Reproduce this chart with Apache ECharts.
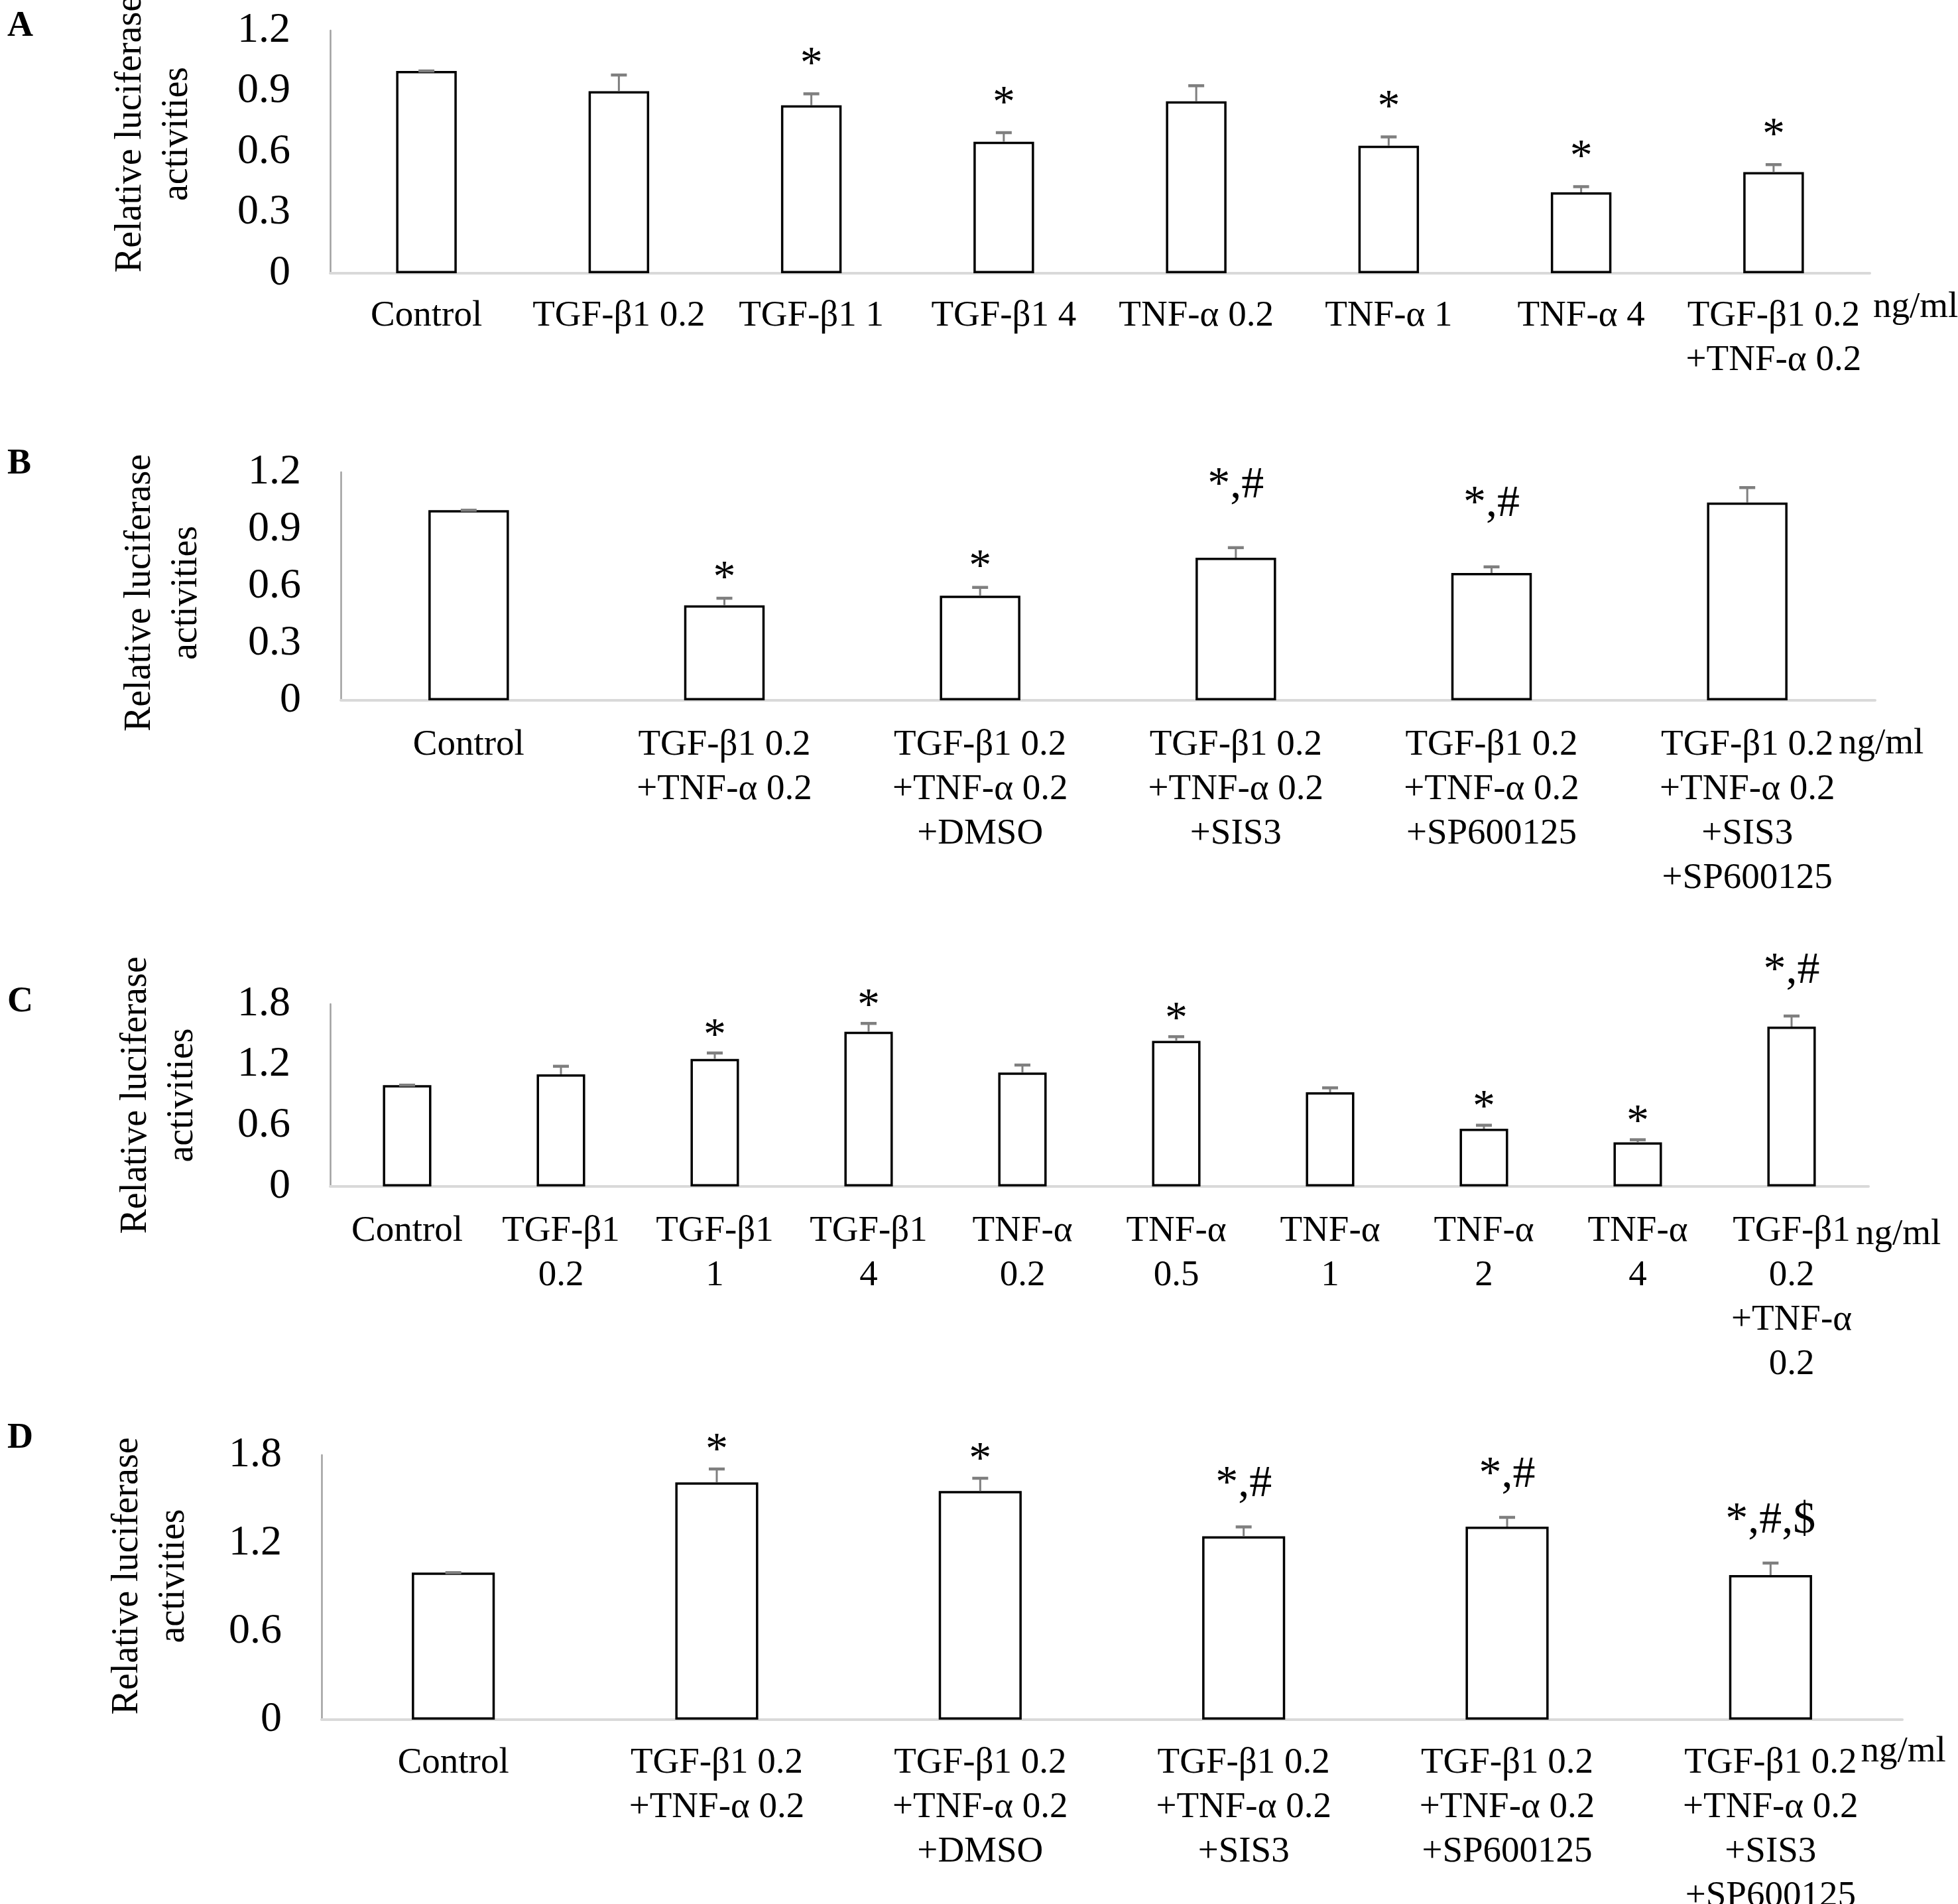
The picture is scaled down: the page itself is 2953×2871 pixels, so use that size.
<!DOCTYPE html>
<html>
<head>
<meta charset="utf-8">
<script src="https://cdn.jsdelivr.net/npm/echarts@6/dist/echarts.min.js"></script>
<style>
html,body{margin:0;padding:0;background:#fff;}
#chart{width:2953px;height:2871px;}
</style>
</head>
<body>
<div id="chart"></div>
<script>
// ---------- data ----------
const catsA = ['Control','TGF-β1 0.2','TGF-β1 1','TGF-β1 4','TNF-α 0.2','TNF-α 1','TNF-α 4','TGF-β1 0.2\n+TNF-α 0.2'];
const meanA = [1.0, 0.90, 0.83, 0.65, 0.85, 0.63, 0.40, 0.50];
const seA   = [0, 0.08, 0.057, 0.045, 0.077, 0.044, 0.028, 0.037];
const sigA  = ['', '', '*', '*', '', '*', '*', '*'];

const catsB = ['Control','TGF-β1 0.2\n+TNF-α 0.2','TGF-β1 0.2\n+TNF-α 0.2\n+DMSO','TGF-β1 0.2\n+TNF-α 0.2\n+SIS3','TGF-β1 0.2\n+TNF-α 0.2\n+SP600125','TGF-β1 0.2\n+TNF-α 0.2\n+SIS3\n+SP600125'];
const meanB = [1.0, 0.50, 0.55, 0.75, 0.67, 1.04];
const seB   = [0, 0.037, 0.044, 0.053, 0.032, 0.079];
const sigB  = ['', '*', '*', '*,#', '*,#', ''];

const catsC = ['Control','TGF-β1\n0.2','TGF-β1\n1','TGF-β1\n4','TNF-α\n0.2','TNF-α\n0.5','TNF-α\n1','TNF-α\n2','TNF-α\n4','TGF-β1\n0.2\n+TNF-α\n0.2'];
const meanC = [1.0, 1.107, 1.259, 1.527, 1.124, 1.437, 0.929, 0.569, 0.435, 1.577];
const seC   = [0, 0.079, 0.058, 0.082, 0.074, 0.041, 0.044, 0.035, 0.026, 0.105];
const sigC  = ['', '', '*', '*', '', '*', '', '*', '*', '*,#'];

const catsD = ['Control','TGF-β1 0.2\n+TNF-α 0.2','TGF-β1 0.2\n+TNF-α 0.2\n+DMSO','TGF-β1 0.2\n+TNF-α 0.2\n+SIS3','TGF-β1 0.2\n+TNF-α 0.2\n+SP600125','TGF-β1 0.2\n+TNF-α 0.2\n+SIS3\n+SP600125'];
const meanD = [1.0, 1.614, 1.555, 1.247, 1.313, 0.983];
const seD   = [0, 0.091, 0.087, 0.064, 0.063, 0.082];
const sigD  = ['', '*', '*', '*,#', '*,#', '*,#,$'];

const yTicksAB = [0, 0.3, 0.6, 0.9, 1.2];
const yTicksCD = [0, 0.6, 1.2, 1.8];

const yTitle = 'Relative luciferase\nactivities';
const unitText = 'ng/ml';
const panelLetters = ['A', 'B', 'C', 'D'];

// ---------- layout / style ----------
const SERIF = '"Liberation Serif", "Times New Roman", Times, serif';
const panels = [
  {cats: catsA, mean: meanA, se: seA, sig: sigA, ticks: yTicksAB,
   grid: {left: 498, top: 46, width: 2322, height: 366}, labelMargin: 31,
   starGap: 20, comboGap: 45, unitGap: 5, unitPad: 24, nameGap: 196, namePad: [0, 0, 0, 54], letterTop: 13},
  {cats: catsB, mean: meanB, se: seB, sig: sigB, ticks: yTicksAB,
   grid: {left: 514, top: 712, width: 2314, height: 344}, labelMargin: 34,
   starGap: 6, comboGap: 71, unitGap: -55, unitPad: 38, nameGap: 198, namePad: [0, 20, 0, 0], letterTop: 673},
  {cats: catsC, mean: meanC, se: seC, sig: sigC, ticks: yTicksCD,
   grid: {left: 498, top: 1514, width: 2320, height: 275}, labelMargin: 34,
   starGap: 2, comboGap: 45, unitGap: -19, unitPad: 45, nameGap: 188, namePad: [0, 0, 0, 0], letterTop: 1484},
  {cats: catsD, mean: meanD, se: seD, sig: sigD, ticks: yTicksCD,
   grid: {left: 485, top: 2194, width: 2384, height: 399}, labelMargin: 32,
   starGap: 4, comboGap: 41, unitGap: -65, unitPad: 21, nameGap: 188, namePad: [0, 0, 0, 34], letterTop: 2142}
];

const SIG_FONT = 68;
const grids = [], xAxes = [], yAxes = [], series = [], graphics = [];

panels.forEach((p, k) => {
  grids.push(Object.assign({containLabel: false, outerBoundsMode: 'none'}, p.grid));
  xAxes.push({
    type: 'category', gridIndex: k, data: p.cats,
    axisTick: {show: false},
    axisLine: {lineStyle: {color: '#d9d9d9', width: 4}},
    axisLabel: {interval: 0, fontFamily: SERIF, fontSize: 55, lineHeight: 67, color: '#000',
                margin: p.labelMargin, hideOverlap: false},
    name: unitText, nameLocation: 'end', nameGap: p.unitGap,
    nameTextStyle: {fontFamily: SERIF, fontSize: 55, lineHeight: 55, color: '#000',
                    align: 'left', verticalAlign: 'top', padding: [p.unitPad, 0, 0, 0]}
  });
  const tmax = p.ticks[p.ticks.length - 1];
  const tint = p.ticks[1] - p.ticks[0];
  yAxes.push({
    type: 'value', gridIndex: k, min: p.ticks[0], max: tmax, interval: tint,
    splitLine: {show: false},
    axisTick: {show: false},
    axisLine: {show: true, lineStyle: {color: '#a0a0a0', width: 2.5}},
    axisLabel: {fontFamily: SERIF, fontSize: 64, color: '#000', margin: 60,
                formatter: v => (Math.abs(v) < 1e-9 ? '0' : (+v.toFixed(1)).toString())},
    name: yTitle, nameLocation: 'middle', nameGap: p.nameGap,
    nameTextStyle: {fontFamily: SERIF, fontSize: 56, lineHeight: 70, color: '#000', align: 'center',
                    padding: p.namePad}
  });
  // bars
  series.push({
    type: 'bar', xAxisIndex: k, yAxisIndex: k, data: p.mean, barWidth: '31.5%',
    itemStyle: {color: '#ffffff', borderColor: '#000000', borderWidth: 3.5},
    emphasis: {disabled: true}, silent: true, z: 2
  });
  // error bars (plus direction)
  series.push({
    type: 'custom', xAxisIndex: k, yAxisIndex: k, z: 3, silent: true,
    data: p.mean.map((m, i) => [i, m, p.se[i]]),
    renderItem: (params, api) => {
      const i = api.value(0), m = api.value(1), s = api.value(2);
      const a = api.coord([i, m]), b = api.coord([i, m + s]);
      const hw = 12;
      return {type: 'group', children: [
        {type: 'line', shape: {x1: a[0], y1: a[1], x2: b[0], y2: b[1]}, style: {stroke: '#7f7f7f', lineWidth: 3}},
        {type: 'line', shape: {x1: b[0] - hw, y1: b[1], x2: b[0] + hw, y2: b[1]}, style: {stroke: '#7f7f7f', lineWidth: 4.5}}
      ]};
    }
  });
  // significance marks
  series.push({
    type: 'custom', xAxisIndex: k, yAxisIndex: k, z: 4, silent: true,
    data: p.mean.map((m, i) => [i, m + p.se[i]]),
    renderItem: (params, api) => {
      const lbl = p.sig[params.dataIndex];
      if (!lbl) return null;
      const c = api.coord([api.value(0), api.value(1)]);
      const gap = lbl.length > 1 ? p.comboGap : p.starGap;
      return {type: 'text', x: c[0], y: c[1] - gap - 0.34 * SIG_FONT,
              style: {text: lbl, fontFamily: SERIF, fontSize: SIG_FONT, fill: '#000',
                      align: 'center', verticalAlign: 'middle'}};
    }
  });
  graphics.push({type: 'text', left: 11, top: p.letterTop,
                 style: {text: panelLetters[k], fontFamily: SERIF, fontSize: 54, fontWeight: 'bold', fill: '#000'}});
});

const chart = echarts.init(document.getElementById('chart'), null, {renderer: 'canvas'});
chart.setOption({
  animation: false,
  backgroundColor: '#ffffff',
  grid: grids, xAxis: xAxes, yAxis: yAxes, series: series, graphic: graphics
});
</script>
</body>
</html>
